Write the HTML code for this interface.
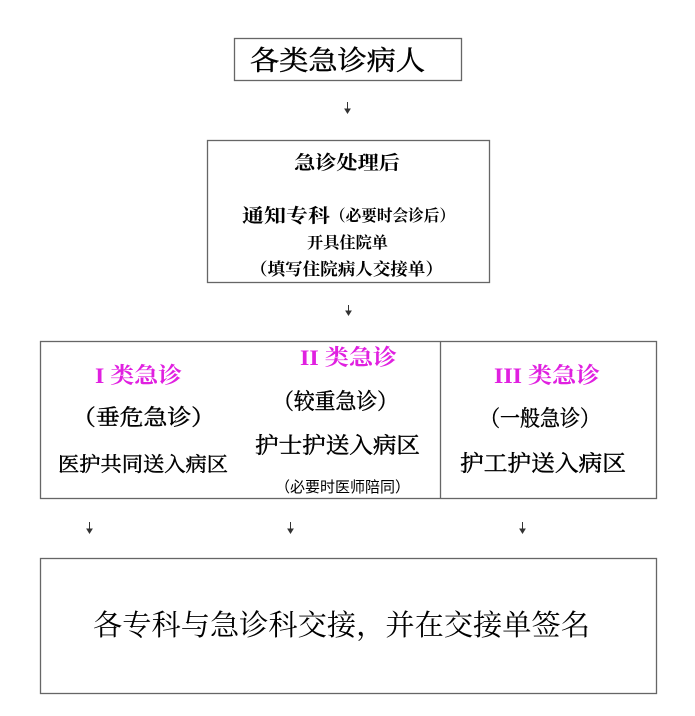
<!DOCTYPE html>
<html><head><meta charset="utf-8"><style>
html,body{margin:0;padding:0;background:#fff;}
svg{display:block;}
text{font-family:"Liberation Serif","Noto Serif CJK SC",serif;fill:#000;}
.s{font-family:"Liberation Sans","Noto Sans CJK SC",sans-serif;}
.m{fill:#e020e0;font-weight:bold;}
.h{stroke:#000;stroke-width:0.45;}
</style></head><body>
<svg width="695" height="716" viewBox="0 0 695 716" xmlns="http://www.w3.org/2000/svg">
<g fill="none" stroke="#666" stroke-width="1.3">
<rect x="234.5" y="38.5" width="227" height="42"/>
<rect x="207.5" y="140.5" width="282" height="142"/>
<rect x="40.5" y="341.5" width="616" height="157"/>
<line x1="440.5" y1="341" x2="440.5" y2="498"/>
<rect x="40.5" y="558.5" width="616" height="135"/>
</g>
<g stroke="#333" stroke-width="1" fill="#333">
<line x1="347.5" y1="102" x2="347.5" y2="110"/><path d="M345 109 L350 109 L347.5 113 Z"/>
<line x1="348.5" y1="305" x2="348.5" y2="312"/><path d="M346 311 L351 311 L348.5 315 Z"/>
<line x1="89.5" y1="522" x2="89.5" y2="530"/><path d="M87 529 L92 529 L89.5 533 Z"/>
<line x1="290.5" y1="522" x2="290.5" y2="530"/><path d="M288 529 L293 529 L290.5 533 Z"/>
<line x1="522.5" y1="522" x2="522.5" y2="530"/><path d="M520 529 L525 529 L522.5 533 Z"/>
</g>
<text class="h" x="250" y="70" font-size="27" textLength="175" lengthAdjust="spacingAndGlyphs">各类急诊病人</text>
<text x="294" y="169" font-size="19" font-weight="bold" textLength="106" lengthAdjust="spacingAndGlyphs">急诊处理后</text>
<text x="242" y="222" font-size="19" font-weight="bold" textLength="88" lengthAdjust="spacingAndGlyphs">通知专科</text>
<text x="330" y="221" font-size="16" font-weight="bold" textLength="125" lengthAdjust="spacingAndGlyphs">（必要时会诊后）</text>
<text x="307" y="248" font-size="16" font-weight="bold" textLength="81" lengthAdjust="spacingAndGlyphs">开具住院单</text>
<text x="250" y="275" font-size="17" font-weight="bold" textLength="193" lengthAdjust="spacingAndGlyphs">（填写住院病人交接单）</text>

<text class="m" x="95" y="383" font-size="22" textLength="87" lengthAdjust="spacingAndGlyphs">I 类急诊</text>
<text class="h" x="72" y="425" font-size="22" textLength="143" lengthAdjust="spacingAndGlyphs">（垂危急诊）</text>
<text class="h" x="58" y="471" font-size="20" textLength="170" lengthAdjust="spacingAndGlyphs">医护共同送入病区</text>

<text class="m" x="300" y="365" font-size="22" textLength="97" lengthAdjust="spacingAndGlyphs">II 类急诊</text>
<text class="h" x="273" y="409" font-size="22" textLength="125" lengthAdjust="spacingAndGlyphs">（较重急诊）</text>
<text class="h" x="255" y="453" font-size="22" textLength="165" lengthAdjust="spacingAndGlyphs">护士护送入病区</text>
<text class="s" x="275" y="492" font-size="15" fill="#444" textLength="135" lengthAdjust="spacingAndGlyphs">（必要时医师陪同）</text>

<text class="m" x="494" y="383" font-size="22" textLength="106" lengthAdjust="spacingAndGlyphs">III 类急诊</text>
<text class="h" x="480" y="426" font-size="22" textLength="120" lengthAdjust="spacingAndGlyphs">（一般急诊）</text>
<text class="h" x="460" y="471" font-size="22" textLength="166" lengthAdjust="spacingAndGlyphs">护工护送入病区</text>

<text x="93" y="635" font-size="29" textLength="497" lengthAdjust="spacingAndGlyphs">各专科与急诊科交接，并在交接单签名</text>
</svg>
</body></html>
